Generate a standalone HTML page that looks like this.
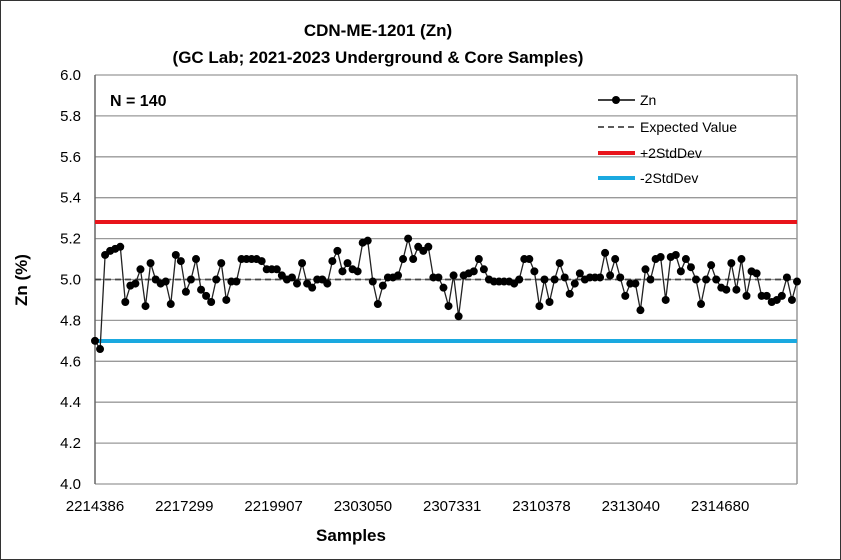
<!DOCTYPE html>
<html><head><meta charset="utf-8"><style>body{margin:0;background:#fff}svg{display:block}text{font-family:"Liberation Sans",Arial,sans-serif}</style></head>
<body>
<svg id="s" width="841" height="560" xmlns="http://www.w3.org/2000/svg">
<rect x="0.5" y="0.5" width="840" height="559" fill="#fff" stroke="#333"/>
<text x="378" y="36" font-size="17" font-weight="bold" text-anchor="middle">CDN-ME-1201 (Zn)</text>
<text x="378" y="63" font-size="17" font-weight="bold" text-anchor="middle">(GC Lab; 2021-2023 Underground &amp; Core Samples)</text>
<g id="grid" stroke="#999" stroke-width="1.3"></g>
<line x1="95" y1="75" x2="95" y2="484" stroke="#666" stroke-width="1.5"/>
<line x1="797" y1="75" x2="797" y2="484" stroke="#999" stroke-width="1.5"/>
<line x1="95" y1="279.5" x2="797" y2="279.5" stroke="#444" stroke-width="1.8" stroke-dasharray="6,4"/>
<line x1="95" y1="222" x2="797" y2="222" stroke="#e8141b" stroke-width="4"/>
<line x1="95" y1="341" x2="797" y2="341" stroke="#1aa9e0" stroke-width="4"/>
<g id="data"></g>
<g id="yl" font-size="15" text-anchor="end"></g>
<g id="xl" font-size="15" text-anchor="middle"></g>
<text x="110" y="106" font-size="16" font-weight="bold">N = 140</text>
<text transform="translate(27,280) rotate(-90)" font-size="17" font-weight="bold" text-anchor="middle">Zn (%)</text>
<text x="351" y="541" font-size="17" font-weight="bold" text-anchor="middle">Samples</text>
<g font-size="14">
<line x1="598" y1="100" x2="635" y2="100" stroke="#000" stroke-width="1.5"/><circle cx="616" cy="100" r="4" fill="#000"/>
<text x="640" y="105">Zn</text>
<line x1="598" y1="127" x2="635" y2="127" stroke="#444" stroke-width="1.8" stroke-dasharray="6,4"/>
<text x="640" y="132">Expected Value</text>
<line x1="598" y1="153" x2="635" y2="153" stroke="#e8141b" stroke-width="4"/>
<text x="640" y="158">+2StdDev</text>
<line x1="598" y1="178" x2="635" y2="178" stroke="#1aa9e0" stroke-width="4"/>
<text x="640" y="183">-2StdDev</text>
</g>
</svg>
<script>
var NS="http://www.w3.org/2000/svg";
function el(p,t,a,txt){var e=document.createElementNS(NS,t);for(var k in a)e.setAttribute(k,a[k]);if(txt)e.textContent=txt;document.getElementById(p).appendChild(e);}
function Y(v){return 484-(v-4)*204.5;}
for(var i=0;i<=10;i++){var v=4+i*0.2,y=Y(v);el("grid","line",{x1:95,x2:797,y1:y,y2:y});el("yl","text",{x:81,y:y+5},v.toFixed(1));}
var xs=["2214386","2217299","2219907","2303050","2307331","2310378","2313040","2314680"];
for(var i=0;i<xs.length;i++)el("xl","text",{x:95+i*89.3,y:511},xs[i]);
var d=[4.70,4.66,5.12,5.14,5.15,5.16,4.89,4.97,4.98,5.05,4.87,5.08,5.00,4.98,4.99,4.88,5.12,5.09,4.94,5.00,5.10,4.95,4.92,4.89,5.00,5.08,4.90,4.99,4.99,5.10,5.10,5.10,5.10,5.09,5.05,5.05,5.05,5.02,5.00,5.01,4.98,5.08,4.98,4.96,5.00,5.00,4.98,5.09,5.14,5.04,5.08,5.05,5.04,5.18,5.19,4.99,4.88,4.97,5.01,5.01,5.02,5.10,5.20,5.10,5.16,5.14,5.16,5.01,5.01,4.96,4.87,5.02,4.82,5.02,5.03,5.04,5.10,5.05,5.00,4.99,4.99,4.99,4.99,4.98,5.00,5.10,5.10,5.04,4.87,5.00,4.89,5.00,5.08,5.01,4.93,4.98,5.03,5.00,5.01,5.01,5.01,5.13,5.02,5.10,5.01,4.92,4.98,4.98,4.85,5.05,5.00,5.10,5.11,4.90,5.11,5.12,5.04,5.10,5.06,5.00,4.88,5.00,5.07,5.00,4.96,4.95,5.08,4.95,5.10,4.92,5.04,5.03,4.92,4.92,4.89,4.90,4.92,5.01,4.90,4.99];
var n=d.length,st=(797-95)/(n-1),pts=[];
for(var i=0;i<n;i++)pts.push((95+i*st).toFixed(1)+","+Y(d[i]).toFixed(1));
el("data","polyline",{points:pts.join(" "),fill:"none",stroke:"#222","stroke-width":1.3});
for(var i=0;i<n;i++)el("data","circle",{cx:95+i*st,cy:Y(d[i]),r:4,fill:"#000"});
</script>
</body></html>
